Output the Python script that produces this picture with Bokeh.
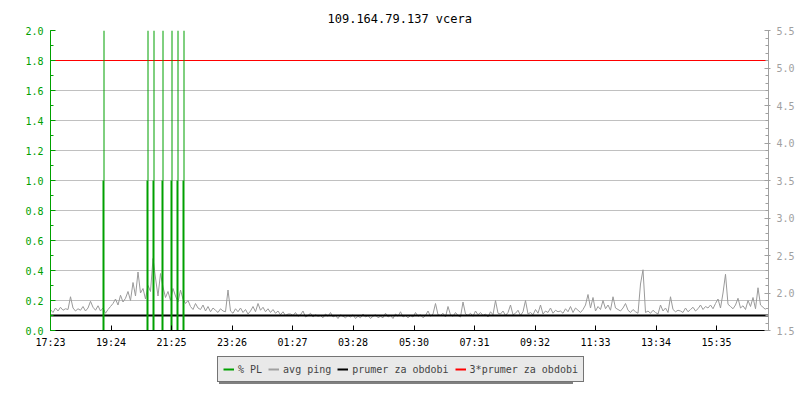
from bokeh.plotting import figure
from bokeh.models import (Range1d, LinearAxis, FixedTicker, SingleIntervalTicker,
                          PrintfTickFormatter, Legend, LegendItem, Title,
                          ColumnDataSource)
from bokeh.transform import dodge
from bokeh.layouts import column
from bokeh.embed import file_html
from bokeh.resources import INLINE

title_text = "109.164.79.137 vcera"
start_time = "17:23"
span_minutes = 1436
sample_minutes = 5
tick_labels = ["17:23", "19:24", "21:25", "23:26", "01:27", "03:28",
               "05:30", "07:31", "09:32", "11:33", "13:34", "15:35"]

# avg ping (ms), one value per 5 minutes from 17:23
ping = [
    1.78, 1.74, 1.80, 1.76, 1.81, 1.77, 1.79, 1.78, 1.95, 1.80, 1.76, 1.79,
    1.77, 1.82, 1.76, 1.80, 1.89, 1.81, 1.77, 1.83, 1.76, 1.80, 1.73, 1.78,
    1.82, 1.86, 1.92, 1.84, 1.97, 1.88, 1.93, 2.02, 1.90, 2.14, 1.96, 2.28,
    2.00, 2.06, 1.92, 2.10, 2.02, 2.46, 2.20, 1.96, 2.26, 2.08, 1.94, 2.02,
    1.90, 2.06, 1.96, 1.88, 2.04, 1.92, 1.86, 1.90, 1.82, 1.78, 1.86, 1.80,
    1.78, 1.84, 1.76, 1.82, 1.75, 1.80, 1.77, 1.74, 1.79, 1.76, 1.75, 2.04,
    1.76, 1.73, 1.79, 1.75, 1.80, 1.74, 1.78, 1.72, 1.76, 1.82, 1.75, 1.86,
    1.77, 1.81, 1.75, 1.79, 1.74, 1.78, 1.73, 1.76, 1.71, 1.75, 1.70, 1.72,
    1.72, 1.70, 1.74, 1.69, 1.71, 1.76, 1.68, 1.70, 1.73, 1.68, 1.71, 1.69,
    1.70, 1.67, 1.72, 1.69, 1.74, 1.68, 1.70, 1.66, 1.71, 1.69, 1.67, 1.70,
    1.68, 1.71, 1.66, 1.69, 1.67, 1.72, 1.68, 1.70, 1.66, 1.69, 1.71, 1.67,
    1.69, 1.67, 1.73, 1.68, 1.70, 1.66, 1.72, 1.69, 1.75, 1.68, 1.70, 1.67,
    1.70, 1.68, 1.74, 1.69, 1.71, 1.67, 1.70, 1.76, 1.69, 1.72, 1.86, 1.71,
    1.70, 1.73, 1.68, 1.82, 1.71, 1.69, 1.74, 1.70, 1.68, 1.88, 1.72, 1.70,
    1.73, 1.69, 1.76, 1.71, 1.74, 1.70, 1.72, 1.68, 1.75, 1.71, 1.90, 1.73,
    1.72, 1.76, 1.70, 1.74, 1.84, 1.71, 1.73, 1.77, 1.70, 1.75, 1.90, 1.72,
    1.74, 1.71, 1.78, 1.73, 1.84, 1.72, 1.76, 1.74, 1.80, 1.73, 1.77, 1.75,
    1.76, 1.73, 1.79, 1.75, 1.82, 1.74, 1.80, 1.77, 1.74, 1.78, 1.84, 1.98,
    1.80, 1.94, 1.76, 1.82, 1.78, 1.90, 1.79, 1.84, 1.77, 1.95, 1.80, 1.78,
    1.76, 1.80, 1.86, 1.77, 1.74, 1.78, 1.75, 1.73, 2.12, 2.31, 1.74, 1.76,
    1.73, 1.77, 1.74, 1.72, 1.84, 1.76, 1.80, 1.74, 1.95, 1.78, 1.75, 1.77,
    1.76, 1.74, 1.80, 1.75, 1.78, 1.81, 1.76, 1.79, 1.84, 1.78, 1.82, 1.80,
    1.84, 1.79, 1.86, 1.92, 1.80, 2.00, 2.25, 1.85, 1.82, 1.79, 1.84, 1.93,
    1.80, 1.83, 1.78, 1.90, 1.82, 1.94, 1.79, 2.07, 1.84, 1.81, 1.78,
]

# packet loss events (minutes after 17:23)
pl_minutes = [106, 194, 206, 224, 242, 254, 266]
pl_bar = [1.0, 1.0, 1.0, 1.0, 1.0, 1.0, 1.0]
pl_peak = [2.0, 2.0, 2.0, 2.0, 2.0, 2.0, 2.0]

period_avg = 1.70          # prumer za obdobi (ms)
avg_multiplier = 3         # 3*prumer

legend_labels = ["% PL", "avg ping", "prumer za obdobi", "3*prumer za obdobi"]

GREEN = "#00a000"
GRAY = "#9a9a9a"
AXGRAY = "#a0a0a0"
MONO = "DejaVu Sans Mono"
NAN = float("nan")


def to_min(s):
    h, m = map(int, s.split(":"))
    sh, sm = map(int, start_time.split(":"))
    return (h * 60 + m - (sh * 60 + sm)) % 1440


tick_pos = [to_min(s) for s in tick_labels]
ping_x = [i * sample_minutes for i in range(len(ping))]

p = figure(frame_width=718, frame_height=300, output_backend="svg",
           toolbar_location=None, x_range=Range1d(0, span_minutes),
           y_range=Range1d(0, 2.0), min_border_left=50, min_border_right=32,
           min_border_top=30, min_border_bottom=20)
p.extra_y_ranges = {"ping": Range1d(1.5, 5.5)}
p.outline_line_color = None
p.background_fill_color = "white"
p.border_fill_color = "white"

p.title = Title(text=title_text, align="left", text_font=MONO,
                text_font_size="12px", text_font_style="normal",
                text_color="black", standoff=10, offset=277)

# left axis
ya = p.yaxis[0]
ya.ticker = SingleIntervalTicker(interval=0.2, num_minor_ticks=2)
ya.formatter = PrintfTickFormatter(format="%.1f")
ya.axis_line_color = GREEN
ya.major_tick_line_color = GREEN
ya.minor_tick_line_color = GREEN
ya.major_label_text_color = GREEN
ya.major_tick_in = 5
ya.major_tick_out = 0
ya.minor_tick_in = 3
ya.minor_tick_out = 0
ya.major_label_standoff = 7
ya.major_label_text_font = MONO
ya.major_label_text_font_size = "10px"

# right axis
ra = LinearAxis(y_range_name="ping",
                ticker=SingleIntervalTicker(interval=0.5, num_minor_ticks=5),
                formatter=PrintfTickFormatter(format="%.1f"))
ra.axis_line_color = AXGRAY
ra.major_tick_line_color = AXGRAY
ra.minor_tick_line_color = AXGRAY
ra.major_label_text_color = AXGRAY
ra.major_tick_in = 4
ra.major_tick_out = 2
ra.minor_tick_in = 3
ra.minor_tick_out = 0
ra.major_label_standoff = 6
ra.major_label_text_font = MONO
ra.major_label_text_font_size = "10px"
p.add_layout(ra, "right")

# bottom axis
xa = p.xaxis[0]
xa.ticker = FixedTicker(ticks=tick_pos, minor_ticks=[])
xa.major_label_overrides = {t: l for t, l in zip(tick_pos, tick_labels)}
xa.axis_line_color = "black"
xa.major_tick_line_color = "black"
xa.major_tick_in = 5
xa.major_tick_out = 0
xa.major_label_standoff = 6
xa.major_label_text_font = MONO
xa.major_label_text_font_size = "10px"
xa.major_label_text_color = "black"

p.xgrid.visible = False
p.ygrid.grid_line_color = "#c0c0c0"
p.ygrid.grid_line_width = 1

x0, x1 = 0, span_minutes

# avg ping
p.line(ping_x, ping, y_range_name="ping", line_color=GRAY, line_width=1)
# period average and 3x average
p.line([x0, x1], [period_avg, period_avg], y_range_name="ping",
       line_color="black", line_width=2)
p.line([x0, x1], [avg_multiplier * period_avg] * 2, y_range_name="ping",
       line_color="#ff0000", line_width=1)
# packet loss
pl_src = ColumnDataSource(dict(x=pl_minutes, bar=pl_bar, peak=pl_peak))
p.vbar(x="x", top="bar", bottom=0, width=4, fill_color=GREEN,
       line_color=None, source=pl_src)
p.segment(x0=dodge("x", 1, range=p.x_range), y0="bar",
          x1=dodge("x", 1, range=p.x_range), y1="peak",
          line_color=GREEN, line_width=1, source=pl_src)

# legend strip as a second figure
q = figure(width=800, height=50, output_backend="svg", toolbar_location=None,
           x_range=Range1d(0, 1), y_range=Range1d(0, 1), min_border=0,
           x_axis_location=None, y_axis_location=None, title=None)
q.outline_line_color = None
q.grid.visible = False
q.background_fill_color = "white"
q.border_fill_color = "white"

colors = [GREEN, AXGRAY, "black", "#ff0000"]
items = []
for lab, c in zip(legend_labels, colors):
    r = q.line([NAN], [NAN], line_color=c, line_width=2)
    items.append(LegendItem(label=lab, renderers=[r]))

dummy = q.line([NAN], [NAN], line_alpha=0)
shadow = Legend(items=[LegendItem(label=" ", renderers=[dummy])],
                location=(169, 16), orientation="horizontal",
                glyph_width=11, glyph_height=14, label_standoff=4,
                label_width=339, padding=5, margin=0,
                label_text_font=MONO, label_text_font_size="10px",
                border_line_color=None, background_fill_color="#808080",
                background_fill_alpha=1)
q.add_layout(shadow, "center")

leg = Legend(items=items, location=(167, 18), orientation="horizontal",
             glyph_width=11, glyph_height=14, label_standoff=4, spacing=6,
             padding=5, margin=0, label_text_font=MONO,
             label_text_font_size="10px", label_height=12,
             border_line_color="black", border_line_width=1,
             background_fill_color="#e9e9e9", background_fill_alpha=1)
q.add_layout(leg, "center")

layout = column(p, q, spacing=0)
open("out.html", "w").write(file_html(layout, INLINE))
